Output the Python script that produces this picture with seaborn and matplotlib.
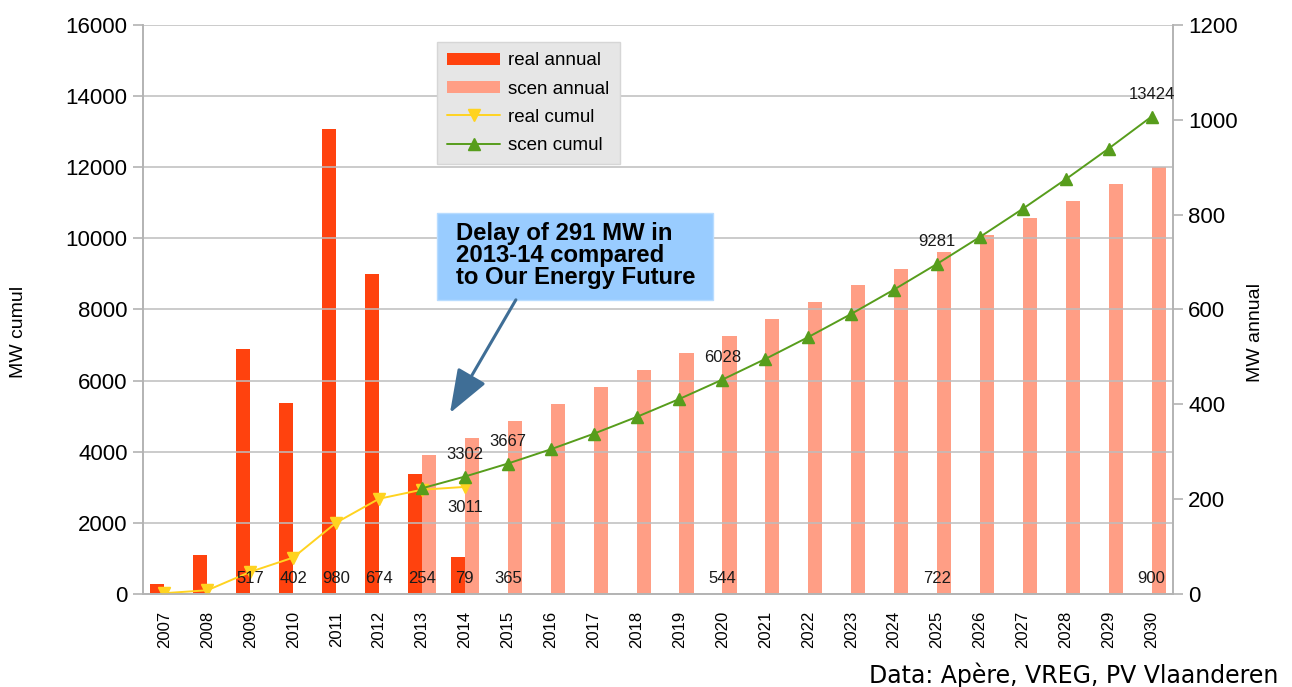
import numpy as np
import pandas as pd
import seaborn as sns
import matplotlib.pyplot as plt
import matplotlib.transforms as mtransforms
from matplotlib.patches import Rectangle

# ---- data ----
years = ["2007", "2008", "2009", "2010", "2011", "2012", "2013", "2014",
         "2015", "2016", "2017", "2018", "2019", "2020", "2021", "2022",
         "2023", "2024", "2025", "2026", "2027", "2028", "2029", "2030"]

real_years = years[:8]
scen_years = years[6:]

real_annual = [21, 82, 517, 402, 980, 674, 254, 79]
scen_annual = [294, 330, 365, 401, 437, 472, 508, 544, 580, 615, 651, 686,
               722, 758, 793, 829, 864, 900]
real_cumul = [23, 105, 622, 1024, 2004, 2678, 2932, 3011]
scen_cumul = [2972, 3302, 3667, 4068, 4505, 4977, 5485, 6028, 6608, 7223,
              7874, 8560, 9281, 10039, 10832, 11661, 12525, 13424]

# which values carry a data label in the original
real_annual_labels = ["2009", "2010", "2011", "2012", "2013", "2014"]
scen_annual_labels = ["2015", "2020", "2025", "2030"]
real_cumul_labels = ["2014"]
scen_cumul_labels = ["2014", "2015", "2020", "2025", "2030"]

RED = "#ff420e"
SALMON = "#ff9e85"
YELLOW = "#ffd320"
GREEN = "#579d1c"
GRAY = "#b3b3b3"

sns.set_style("white")
plt.rcParams["font.family"] = ["Liberation Sans", "DejaVu Sans"]
plt.rcParams["text.color"] = "black"
plt.rcParams["axes.labelcolor"] = "black"

bars = pd.DataFrame({
    "year": real_years + scen_years,
    "MW": real_annual + scen_annual,
    "series": ["real annual"] * len(real_years) + ["scen annual"] * len(scen_years),
})
lines = pd.DataFrame({
    "year": real_years + scen_years,
    "MW": real_cumul + scen_cumul,
    "series": ["real cumul"] * len(real_years) + ["scen cumul"] * len(scen_years),
})

fig, ax = plt.subplots(figsize=(12.92, 6.87), dpi=100)
fig.subplots_adjust(left=0.1107, right=0.9079, bottom=0.1354, top=0.9636)
ax2 = ax.twinx()

sns.barplot(data=bars, x="year", y="MW", hue="series", order=years,
            hue_order=["real annual", "scen annual"], palette=[RED, SALMON],
            width=0.66, saturation=1, errorbar=None, linewidth=0, ax=ax2)
sns.pointplot(data=lines, x="year", y="MW", hue="series", order=years,
              hue_order=["real cumul", "scen cumul"], palette=[YELLOW, GREEN],
              markers=["v", "^"], linestyles=["-", "-"], dodge=False,
              errorbar=None, markersize=8.5, linewidth=1.4, ax=ax)

# lines on top of the bars
ax.set_zorder(ax2.get_zorder() + 1)
ax.patch.set_visible(False)

ax.set_xlim(-0.5, len(years) - 0.5)
ax.set_ylim(0, 16000)
ax2.set_ylim(0, 1200)
ax.set_yticks(range(0, 16001, 2000))
ax2.set_yticks(range(0, 1201, 200))
ax.set_xticks(range(len(years)))
ax.set_xticklabels(years, rotation=90, fontsize=12)
ax.set_xticks(np.arange(-0.5, len(years), 1), minor=True)
ax.tick_params(axis="x", which="major", length=0, pad=12, labelcolor="black")
ax.tick_params(axis="x", which="minor", length=7, width=1.2, color=GRAY)
ax.tick_params(axis="y", length=7, width=1.2, color=GRAY, pad=4,
               labelsize=16, labelcolor="black")
ax2.tick_params(axis="y", length=7, width=1.2, color=GRAY, pad=4,
                labelsize=16, labelcolor="black")
ax.set_xlabel("")
ax.set_ylabel("MW cumul", fontsize=14)
ax2.set_ylabel("MW annual", fontsize=14)
ax.yaxis.set_label_coords(-0.1126, 0.46)
ax2.yaxis.set_label_coords(1.0718, 0.46)

ax.yaxis.grid(True, color="#bdbdbd", linewidth=1.3, alpha=0.85)
ax.set_axisbelow(True)
for a in (ax, ax2):
    a.spines["top"].set_visible(False)
    for s in ("left", "right", "bottom"):
        a.spines[s].set_color(GRAY)
        a.spines[s].set_linewidth(1.2)

# combined legend
h1, l1 = ax2.get_legend_handles_labels()
h2, l2 = ax.get_legend_handles_labels()
ax2.get_legend().remove()
ax.get_legend().remove()
leg = ax.legend(h1 + h2, l1 + l2, loc="upper left",
                bbox_to_anchor=(0.2854, 0.970), borderaxespad=0,
                frameon=True, fancybox=False, facecolor="#e6e6e6",
                edgecolor="#d6d6d6", framealpha=1, fontsize=13.5,
                handlelength=2.8, handleheight=0.65, labelspacing=0.6,
                borderpad=0.55, handletextpad=0.45)

# data labels
base = mtransforms.blended_transform_factory(ax.transData, ax.transAxes)
for y in real_annual_labels:
    ax.text(years.index(y), 0.028, str(real_annual[real_years.index(y)]),
            transform=base, ha="center", va="center", fontsize=12,
            color="#1a1a1a")
for y in scen_annual_labels:
    ax.text(years.index(y), 0.028, str(scen_annual[scen_years.index(y)]),
            transform=base, ha="center", va="center", fontsize=12,
            color="#1a1a1a")
for y in scen_cumul_labels:
    v = scen_cumul[scen_years.index(y)]
    ax.annotate(str(v), xy=(years.index(y), v), xytext=(0, 16),
                textcoords="offset points", ha="center", va="center",
                fontsize=12, color="#1a1a1a")
for y in real_cumul_labels:
    v = real_cumul[real_years.index(y)]
    ax.annotate(str(v), xy=(years.index(y), v), xytext=(0, -15),
                textcoords="offset points", ha="center", va="center",
                fontsize=12, color="#1a1a1a")

# callout
ax.add_patch(Rectangle((0.285, 0.517), 0.268, 0.153, transform=ax.transAxes,
                       facecolor="#99ccff", edgecolor="#b8dcff",
                       linewidth=1, zorder=5))
ax.text(0.3039, 0.5955, "Delay of 291 MW in\n2013-14 compared\nto Our Energy Future",
        transform=ax.transAxes, ha="left", va="center", fontsize=17.2,
        fontweight="bold", linespacing=0.95, color="black", zorder=6)
ax.annotate("", xy=(0.298, 0.318), xycoords="axes fraction",
            xytext=(0.362, 0.517), textcoords="axes fraction",
            arrowprops=dict(arrowstyle="-|>,head_length=2.7,head_width=1.0",
                            color="#3f6e96", lw=2.2, mutation_scale=10,
                            shrinkA=0, shrinkB=0), zorder=6)

fig.text(0.9892, 0.0175, "Data: Apère, VREG, PV Vlaanderen", ha="right",
         va="center", fontsize=17, family="DejaVu Sans", color="black")

fig.savefig("out.png", dpi=100)
